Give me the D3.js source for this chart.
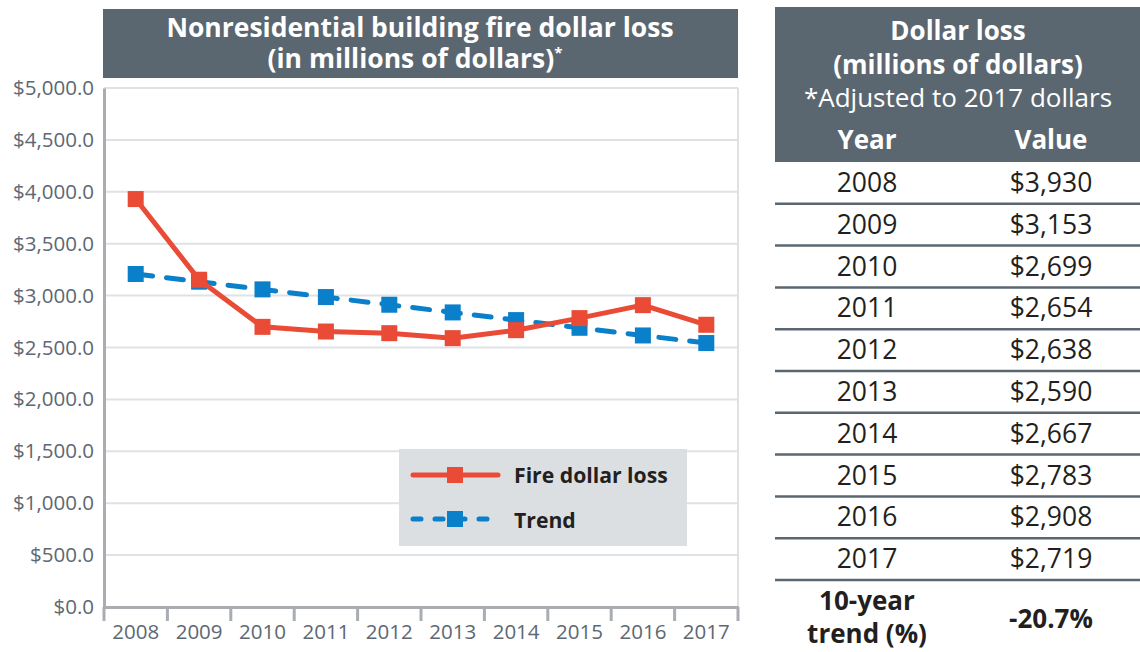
<!DOCTYPE html>
<meta charset="utf-8">
<style>
  body { margin: 0; background: #fff; font-family: "Open Sans", sans-serif; }
  .grid line { stroke: #dfe2e5; stroke-width: 2px; }
  .tick text { fill: #5d6872; font-size: 20.5px; font-family: "Open Sans", sans-serif; }
</style>
<body>
<svg width="1140" height="652"></svg>
<script src="https://d3js.org/d3.v7.min.js"></script>
<script>
// data ------------------------------------------------------------------------
var years = ["2008", "2009", "2010", "2011", "2012", "2013", "2014", "2015", "2016", "2017"];
var dollarLoss = [3930, 3153, 2699, 2654, 2638, 2590, 2667, 2783, 2908, 2719];
var trend = [3208, 3134, 3060, 2986, 2912, 2838, 2764, 2690, 2616, 2543];
var yTicks = [0, 500, 1000, 1500, 2000, 2500, 3000, 3500, 4000, 4500, 5000];
var tableValues = ["$3,930", "$3,153", "$2,699", "$2,654", "$2,638", "$2,590", "$2,667", "$2,783", "$2,908", "$2,719"];
var trendPct = "-20.7%";
//------------------------------------------------------------------------------

var red = "#ea4b36", blue = "#0a7fca", slate = "#5b6770";
var svg = d3.select("svg");

var plot = { left: 104, right: 738, top: 88, bottom: 607 };

var x = d3.scaleBand().domain(years).range([plot.left, plot.right]);
var y = d3.scaleLinear().domain([0, 5000]).range([plot.bottom, plot.top]);

// title bar
svg.append("rect").attr("x", 103).attr("y", 9).attr("width", 635).attr("height", 69).attr("fill", slate);
var title = svg.append("text").attr("text-anchor", "middle").attr("fill", "#fff")
  .style("font-weight", "bold").style("font-size", "26.5px");
title.append("tspan").attr("x", 420).attr("y", 37).text("Nonresidential building fire dollar loss");
title.append("tspan").attr("x", 415).attr("y", 68).text("(in millions of dollars)");
title.append("tspan").attr("dy", -10).style("font-size", "15px").text("*");

// grid
svg.append("g").attr("class", "grid")
  .selectAll("line").data(yTicks.filter(d => d > 0)).enter().append("line")
  .attr("x1", plot.left).attr("x2", plot.right)
  .attr("y1", d => y(d)).attr("y2", d => y(d));
svg.append("line").attr("x1", plot.right).attr("x2", plot.right)
  .attr("y1", plot.top).attr("y2", plot.bottom).attr("stroke", "#dfe2e5").attr("stroke-width", 2);

// y axis
var yAxis = svg.append("g").attr("transform", `translate(${plot.left},0)`)
  .call(d3.axisLeft(y).tickValues(yTicks).tickSize(0).tickPadding(10)
    .tickFormat(d => "$" + d3.format(",.1f")(d)));
yAxis.select(".domain").attr("stroke", "#a9adb1").attr("stroke-width", 3);
yAxis.selectAll(".tick text").attr("dy", "0.32em");

// x axis
var xAxis = svg.append("g").attr("transform", `translate(0,${plot.bottom})`)
  .call(d3.axisBottom(x).tickSize(0).tickPadding(17));
xAxis.select(".domain").attr("stroke", "#a9adb1").attr("stroke-width", 3);
var bounds = years.map(d => x(d)).concat([plot.right]);
xAxis.selectAll(".sep").data(bounds).enter().append("line")
  .attr("x1", d => d).attr("x2", d => d).attr("y1", 0).attr("y2", 14)
  .attr("stroke", "#a9adb1").attr("stroke-width", 3);

var cx = d => x(d) + x.bandwidth() / 2;
var line = d3.line().x((d, i) => cx(years[i])).y(d => y(d));

// trend line
svg.append("path").datum(trend).attr("d", line).attr("fill", "none")
  .attr("stroke", blue).attr("stroke-width", 5).attr("stroke-linecap", "round")
  .attr("stroke-dasharray", "17,14");
svg.selectAll(".tm").data(trend).enter().append("rect")
  .attr("x", (d, i) => cx(years[i]) - 8).attr("y", d => y(d) - 8)
  .attr("width", 16).attr("height", 16).attr("fill", blue);

// dollar loss line
svg.append("path").datum(dollarLoss).attr("d", line).attr("fill", "none")
  .attr("stroke", red).attr("stroke-width", 5);
svg.selectAll(".dm").data(dollarLoss).enter().append("rect")
  .attr("x", (d, i) => cx(years[i]) - 8).attr("y", d => y(d) - 8)
  .attr("width", 16).attr("height", 16).attr("fill", red);

// legend
var lg = svg.append("g");
lg.append("rect").attr("x", 399).attr("y", 449).attr("width", 288).attr("height", 97).attr("fill", "#dcdfe2");
lg.append("line").attr("x1", 413).attr("x2", 498).attr("y1", 475).attr("y2", 475)
  .attr("stroke", red).attr("stroke-width", 5).attr("stroke-linecap", "round");
lg.append("rect").attr("x", 447).attr("y", 467).attr("width", 16).attr("height", 16).attr("fill", red);
lg.append("line").attr("x1", 413).attr("x2", 498).attr("y1", 519).attr("y2", 519)
  .attr("stroke", blue).attr("stroke-width", 5).attr("stroke-linecap", "round").attr("stroke-dasharray", "8,14");
lg.append("rect").attr("x", 447).attr("y", 511).attr("width", 16).attr("height", 16).attr("fill", blue);
lg.append("text").attr("x", 514).attr("y", 483).attr("fill", "#231f20")
  .style("font-weight", "bold").style("font-size", "21.2px").text("Fire dollar loss");
lg.append("text").attr("x", 514).attr("y", 528).attr("fill", "#231f20")
  .style("font-weight", "bold").style("font-size", "21.2px").text("Trend");

// table -----------------------------------------------------------------------
var tx0 = 775, tx1 = 1140, colYear = 867, colVal = 1051;
var tb = svg.append("g");
tb.append("rect").attr("x", tx0).attr("y", 7).attr("width", tx1 - tx0).attr("height", 155).attr("fill", slate);
var hd = [["Dollar loss", 40, "bold"], ["(millions of dollars)", 74, "bold"], ["*Adjusted to 2017 dollars", 107, "normal"]];
tb.selectAll(".hd").data(hd).enter().append("text")
  .attr("x", 958).attr("y", d => d[1]).attr("text-anchor", "middle").attr("fill", "#fff")
  .style("font-size", "26px").style("font-weight", d => d[2]).text(d => d[0]);
tb.append("text").attr("x", colYear).attr("y", 149).attr("text-anchor", "middle").attr("fill", "#fff")
  .style("font-size", "26px").style("font-weight", "bold").text("Year");
tb.append("text").attr("x", colVal).attr("y", 149).attr("text-anchor", "middle").attr("fill", "#fff")
  .style("font-size", "26px").style("font-weight", "bold").text("Value");

var rowH = 41.8, row0 = 162;
years.forEach(function(yr, i) {
  var ty = row0 + rowH * i + rowH / 2 + 9;
  tb.append("text").attr("x", colYear).attr("y", ty).attr("text-anchor", "middle").attr("fill", "#231f20")
    .style("font-size", "26.5px").text(yr);
  tb.append("text").attr("x", colVal).attr("y", ty).attr("text-anchor", "middle").attr("fill", "#231f20")
    .style("font-size", "26.5px").text(tableValues[i]);
  tb.append("line").attr("x1", tx0).attr("x2", tx1)
    .attr("y1", row0 + rowH * (i + 1)).attr("y2", row0 + rowH * (i + 1))
    .attr("stroke", slate).attr("stroke-width", 2.5);
});
var last = tb.append("text").attr("text-anchor", "middle").attr("fill", "#231f20")
  .style("font-size", "26px").style("font-weight", "bold");
last.append("tspan").attr("x", colYear).attr("y", 610).text("10-year");
last.append("tspan").attr("x", colYear).attr("y", 643).text("trend (%)");
tb.append("text").attr("x", colVal).attr("y", 628).attr("text-anchor", "middle").attr("fill", "#231f20")
  .style("font-size", "26px").style("font-weight", "bold").text(trendPct);
</script>
</body>
